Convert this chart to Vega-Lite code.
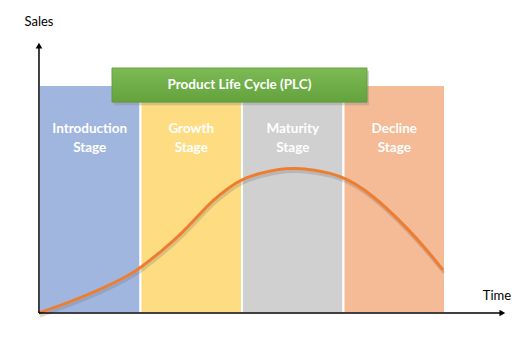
{
  "$schema": "https://vega.github.io/schema/vega-lite/v6.json",
  "width": 526,
  "height": 351,
  "padding": 0,
  "autosize": {"type": "fit", "contains": "padding"},
  "background": "white",
  "config": {"view": {"stroke": null}},
  "datasets": {
    "stages": [
      {"stage": "Introduction", "label": "Introduction|Stage", "start": 0, "end": 1, "mid": 0.5, "bottom": 0, "top": 100, "labelY": 80.7},
      {"stage": "Growth", "label": "Growth|Stage", "start": 1, "end": 2, "mid": 1.5, "bottom": 0, "top": 100, "labelY": 80.7},
      {"stage": "Maturity", "label": "Maturity|Stage", "start": 2, "end": 3, "mid": 2.5, "bottom": 0, "top": 100, "labelY": 80.7},
      {"stage": "Decline", "label": "Decline|Stage", "start": 3, "end": 4, "mid": 3.5, "bottom": 0, "top": 100, "labelY": 80.7}
    ],
    "banner": [
      {"title": "Product Life Cycle (PLC)", "start": 0.719, "end": 3.232, "low": 92.5, "high": 107.5, "mid": 1.975, "midY": 100.2}
    ],
    "curve": [
      {"time": 0, "sales": 0},
      {"time": 0.305, "sales": 4.8},
      {"time": 0.601, "sales": 10.1},
      {"time": 0.897, "sales": 16.7},
      {"time": 0.995, "sales": 19.7},
      {"time": 1.222, "sales": 27.6},
      {"time": 1.419, "sales": 35.5},
      {"time": 1.557, "sales": 42.1},
      {"time": 1.714, "sales": 49.6},
      {"time": 1.882, "sales": 55.3},
      {"time": 1.98, "sales": 58.3},
      {"time": 2.177, "sales": 61.4},
      {"time": 2.374, "sales": 63.2},
      {"time": 2.522, "sales": 63.6},
      {"time": 2.719, "sales": 62.7},
      {"time": 2.867, "sales": 61.4},
      {"time": 3.015, "sales": 59.2},
      {"time": 3.192, "sales": 54.8},
      {"time": 3.429, "sales": 46.0},
      {"time": 3.626, "sales": 37.3},
      {"time": 3.823, "sales": 27.6},
      {"time": 3.98, "sales": 18.9}
    ],
    "axes": [
      {"axis": "Sales", "x": 0, "y": 0, "x2": 0, "y2": 116.5, "ax": 0, "ay": 117.3, "shape": "triangle-up", "lx": 0, "ly": 127.6},
      {"axis": "Time", "x": 0, "y": 0, "x2": 4.55, "y2": 0, "ax": 4.565, "ay": 0, "shape": "triangle-right", "lx": 4.512, "ly": 7.3}
    ]
  },
  "encoding": {},
  "layer": [
    {
      "data": {"name": "stages"},
      "mark": {"type": "rect", "stroke": "white", "strokeWidth": 2},
      "encoding": {
        "x": {"field": "start", "type": "quantitative", "scale": {"domain": [-0.384, 4.798], "nice": false, "zero": false}, "axis": null},
        "x2": {"field": "end"},
        "y": {"field": "bottom", "type": "quantitative", "scale": {"domain": [-16.67, 137.3], "nice": false, "zero": false}, "axis": null},
        "y2": {"field": "top"},
        "color": {"field": "stage", "type": "nominal", "legend": null,
          "scale": {"domain": ["Introduction", "Growth", "Maturity", "Decline"], "range": ["#A0B6DF", "#FEDC82", "#D0D0D0", "#F5BA96"]}}
      }
    },
    {
      "data": {"name": "stages"},
      "mark": {"type": "text", "font": "Lato", "fontSize": 13.5, "fontWeight": "bold", "color": "white", "lineBreak": "|", "lineHeight": 19, "baseline": "middle", "align": "center"},
      "encoding": {
        "x": {"field": "mid", "type": "quantitative"},
        "y": {"field": "labelY", "type": "quantitative"},
        "text": {"field": "label"}
      }
    },
    {
      "data": {"name": "banner"},
      "mark": {"type": "rect", "color": "#888888", "opacity": 0.35, "xOffset": 2, "yOffset": 3, "x2Offset": 2, "y2Offset": 3},
      "encoding": {
        "x": {"field": "start", "type": "quantitative"},
        "x2": {"field": "end"},
        "y": {"field": "low", "type": "quantitative"},
        "y2": {"field": "high"}
      }
    },
    {
      "data": {"name": "banner"},
      "mark": {"type": "rect", "color": {"gradient": "linear", "x1": 0, "y1": 0, "x2": 0, "y2": 1, "stops": [{"offset": 0, "color": "#7DBA55"}, {"offset": 1, "color": "#63A23C"}]}, "stroke": "#5E9A38", "strokeWidth": 0.8},
      "encoding": {
        "x": {"field": "start", "type": "quantitative"},
        "x2": {"field": "end"},
        "y": {"field": "low", "type": "quantitative"},
        "y2": {"field": "high"}
      }
    },
    {
      "data": {"name": "banner"},
      "mark": {"type": "text", "font": "Lato", "fontSize": 13.5, "fontWeight": "bold", "color": "white", "baseline": "middle", "align": "center"},
      "encoding": {
        "x": {"field": "mid", "type": "quantitative"},
        "y": {"field": "midY", "type": "quantitative"},
        "text": {"field": "title"}
      }
    },
    {
      "data": {"name": "curve"},
      "mark": {"type": "line", "interpolate": "basis", "color": "#6B6B6B", "opacity": 0.25, "strokeWidth": 3, "xOffset": 1, "yOffset": 3},
      "encoding": {
        "x": {"field": "time", "type": "quantitative"},
        "y": {"field": "sales", "type": "quantitative"}
      }
    },
    {
      "data": {"name": "curve"},
      "mark": {"type": "line", "interpolate": "basis", "color": "#ED7D31", "strokeWidth": 3},
      "encoding": {
        "x": {"field": "time", "type": "quantitative"},
        "y": {"field": "sales", "type": "quantitative"}
      }
    },
    {
      "data": {"name": "axes"},
      "mark": {"type": "rule", "color": "black", "strokeWidth": 1.5},
      "encoding": {
        "x": {"field": "x", "type": "quantitative"},
        "y": {"field": "y", "type": "quantitative"},
        "x2": {"field": "x2"},
        "y2": {"field": "y2"}
      }
    },
    {
      "data": {"name": "axes"},
      "mark": {"type": "point", "filled": true, "color": "black", "opacity": 1, "size": 45},
      "encoding": {
        "x": {"field": "ax", "type": "quantitative"},
        "y": {"field": "ay", "type": "quantitative"},
        "shape": {"field": "shape", "type": "nominal", "scale": null, "legend": null}
      }
    },
    {
      "data": {"name": "axes"},
      "mark": {"type": "text", "font": "Lato", "fontSize": 13, "color": "black", "baseline": "middle", "align": "center"},
      "encoding": {
        "x": {"field": "lx", "type": "quantitative"},
        "y": {"field": "ly", "type": "quantitative"},
        "text": {"field": "axis"}
      }
    }
  ]
}
